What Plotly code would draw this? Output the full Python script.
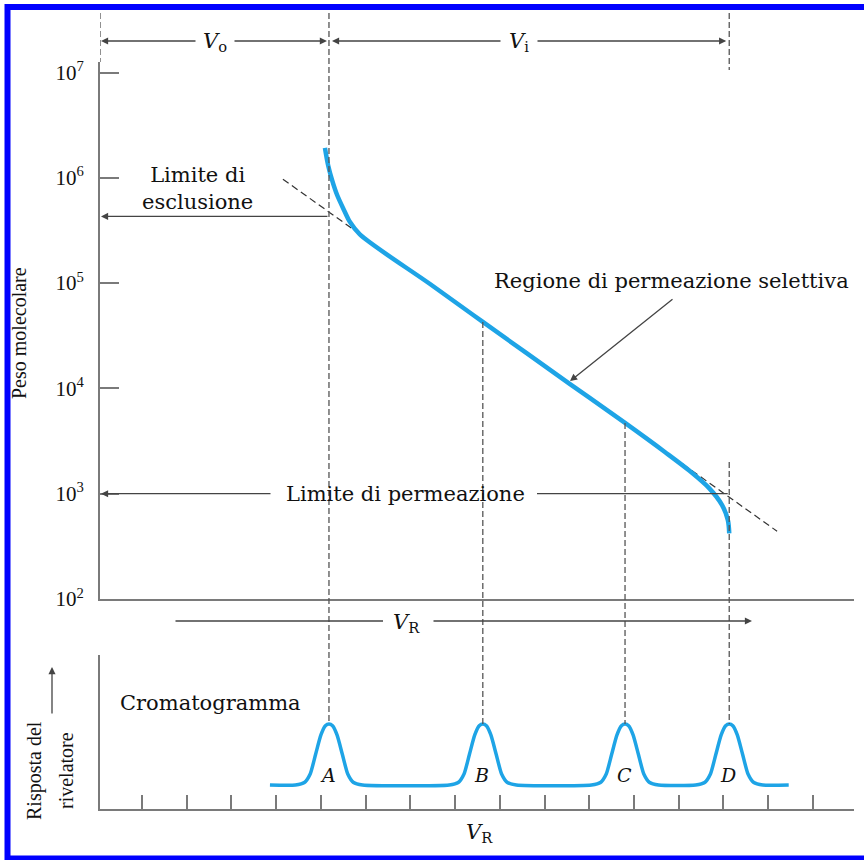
import numpy as np
import plotly.graph_objects as go

# ---------------- data ----------------
curve_vr = [5.09, 5.16, 5.25, 5.36, 5.52, 5.65, 5.87, 7.44, 8.62, 10.57,
            11.80, 12.69, 13.25, 13.68, 13.97, 14.10, 14.13]
curve_mw = [1.92e6, 1.32e6, 9.5e5, 6.9e5, 4.9e5, 3.8e5, 2.9e5, 9.8e4, 4.28e4, 1.10e4,
            4.7e3, 2.49e3, 1.64e3, 1.13e3, 7.8e2, 5.6e2, 4.2e2]

peak_names = ["A", "B", "C", "D"]
peak_vr = [5.18, 8.62, 11.80, 14.13]
peak_amp = [0.396, 0.396, 0.396, 0.396]
baseline = 0.156
chrom_start = 3.86
chrom_end = 15.46
profile_dx = [-0.75, -0.55, -0.42, -0.30, -0.18, -0.08, 0.0, 0.08, 0.18, 0.30, 0.42, 0.55, 0.75]
profile_h = [0.0, 0.04, 0.18, 0.50, 0.82, 0.97, 1.0, 0.97, 0.82, 0.50, 0.18, 0.04, 0.0]

mw_tickvals = [1e2, 1e3, 1e4, 1e5, 1e6, 1e7]
mw_ticktext = ["10<sup>2</sup>", "10<sup>3</sup>", "10<sup>4</sup>",
               "10<sup>5</sup>", "10<sup>6</sup>", "10<sup>7</sup>"]
vr_tickvals = list(range(1, 17))

exclusion_limit = 4.3e5
permeation_limit = 1e3
linear_idx = (7, 10)   # points of the linear (selective permeation) region

# ---------------- layout geometry ----------------
W, H = 864, 860
X_RANGE = [0.06, 16.92]
X_DOM = [100 / W, 854 / W]
TOP_RANGE = [2, 7.1]
TOP_DOM = [261 / H, 798 / H]
BOT_RANGE = [0, 1]
BOT_DOM = [51 / H, 205 / H]

BLUE = "#1ea4e6"
GUIDE = "#555555"
AXC = "#7a7a7a"
TXT = "#111111"
HFONT = "DejaVu Serif"
VFONT = "Liberation Serif"


def xpx(x):
    return W * (X_DOM[0] + (x - X_RANGE[0]) / (X_RANGE[1] - X_RANGE[0]) * (X_DOM[1] - X_DOM[0]))


def top_paper(v):
    lv = np.log10(v)
    return TOP_DOM[0] + (lv - TOP_RANGE[0]) / (TOP_RANGE[1] - TOP_RANGE[0]) * (TOP_DOM[1] - TOP_DOM[0])


def bot_paper(v):
    return BOT_DOM[0] + (v - BOT_RANGE[0]) / (BOT_RANGE[1] - BOT_RANGE[0]) * (BOT_DOM[1] - BOT_DOM[0])


def ypx_from_paper(p):
    return H * (1 - p)


def curve_at(x):
    return 10 ** np.interp(x, curve_vr, np.log10(curve_mw))


# tangent through the linear region
x1, x2 = curve_vr[linear_idx[0]], curve_vr[linear_idx[1]]
l1, l2 = np.log10(curve_mw[linear_idx[0]]), np.log10(curve_mw[linear_idx[1]])
slope = (l2 - l1) / (x2 - x1)


def tangent(x):
    return 10 ** (l1 + slope * (np.asarray(x) - x1))


# chromatogram
chrom_x = [chrom_start]
chrom_y = [baseline]
for c, a in zip(peak_vr, peak_amp):
    for dx, h in zip(profile_dx, profile_h):
        chrom_x.append(c + dx)
        chrom_y.append(baseline + a * h)
chrom_x.append(chrom_end)
chrom_y.append(baseline)

fig = go.Figure()

# tangent extrapolations (dashed)
up_t = [4.15, 5.81]
lo_t = [12.69, 15.20]
for seg in (up_t, lo_t):
    fig.add_trace(go.Scatter(x=seg, y=tangent(seg), mode="lines",
                             line=dict(color="#333333", width=1.2, dash="7px,4px"),
                             xaxis="x", yaxis="y", hoverinfo="skip"))

fig.add_trace(go.Scatter(x=curve_vr, y=curve_mw, mode="lines",
                         line=dict(color=BLUE, width=4.5, shape="spline", smoothing=0.9),
                         xaxis="x", yaxis="y"))

fig.add_trace(go.Scatter(x=chrom_x, y=chrom_y, mode="lines",
                         line=dict(color=BLUE, width=3.5, shape="spline", smoothing=0.6),
                         xaxis="x2", yaxis="y2"))

shapes = []
# vertical dashed guides
top_guide = (H - 13) / H
peak_top = [bot_paper(baseline + a) for a in peak_amp]
dash = "6px,3px"


def vline(x, y0, y1):
    shapes.append(dict(type="line", xref="x", yref="paper", x0=x, x1=x, y0=y0, y1=y1,
                       line=dict(color=GUIDE, width=1.3, dash=dash), layer="above"))


vline(X_RANGE[0], top_guide, TOP_DOM[1])
vline(peak_vr[0], top_guide, peak_top[0])
vline(peak_vr[1], top_paper(curve_at(peak_vr[1])), peak_top[1])
vline(peak_vr[2], top_paper(curve_at(peak_vr[2])), peak_top[2])
vline(peak_vr[3], top_guide, (H - 70) / H)
vline(peak_vr[3], (H - 462) / H, peak_top[3])

# blue frame
shapes.append(dict(type="rect", xref="paper", yref="paper",
                   x0=7.5 / W, x1=(W + 6) / W, y0=1.5 / H, y1=(H - 7) / H,
                   line=dict(color="#0000ff", width=6), fillcolor="rgba(0,0,0,0)"))

annotations = []


def arrow(hx, hy, tx, ty, head=True):
    annotations.append(dict(x=hx / W, y=1 - hy / H, xref="paper", yref="paper",
                            ax=tx - hx, ay=ty - hy, axref="pixel", ayref="pixel",
                            text="", showarrow=True, arrowhead=2 if head else 0,
                            arrowsize=1.1, arrowwidth=1.3, arrowcolor="#444444",
                            standoff=0, startstandoff=0))


def text(s, px, py, size=21, font=HFONT, angle=0, xanchor="center", italic=False):
    annotations.append(dict(x=px / W, y=1 - py / H, xref="paper", yref="paper",
                            text=("<i>%s</i>" % s) if italic else s, showarrow=False,
                            font=dict(family=font, size=size, color=TXT),
                            textangle=angle, xanchor=xanchor, yanchor="middle"))


xa = xpx(X_RANGE[0])
xA, xB, xC, xD = [xpx(v) for v in peak_vr]

# V0 / Vi dimension arrows
yv = 41
arrow(xa + 1, yv, 197, yv)
arrow(xA - 2, yv, 233, yv)
text("<i>V</i><sub>o</sub>", 215, yv + 1)
arrow(xA + 3, yv, 502, yv)
arrow(xD - 3, yv, 536, yv)
text("<i>V</i><sub>i</sub>", 519, yv + 1)

# exclusion limit
ye = ypx_from_paper(top_paper(exclusion_limit))
arrow(xa + 1, ye, xA, ye)
text("Limite di<br>esclusione", 197, ye - 28)

# permeation limit
yp = ypx_from_paper(top_paper(permeation_limit))
arrow(xa + 1, yp, 272, yp)
arrow(537, yp, xD, yp, head=False)
text("Limite di permeazione", 405, yp)

# selective permeation region
xr_head = 10.57
hx, hy = xpx(xr_head), ypx_from_paper(top_paper(curve_at(xr_head))) - 3
arrow(hx, hy, 674, 298)
text("Regione di permeazione selettiva", 671, 281)

# V_R arrow between panels
yr = 621
arrow(383, yr, 174, yr, head=False)
arrow(752, yr, 432, yr)
text("<i>V</i><sub>R</sub>", 406, yr + 2)

# chromatogram labels
text("Cromatogramma", 118, 703, xanchor="left")
for name, xv in zip(peak_names, peak_vr):
    text(name, xpx(xv) - 1, 775, size=19, italic=True)
text("<i>V</i><sub>R</sub>", 479, 833)

# axis titles
text("Peso molecolare", 19, 333, size=20, font=VFONT, angle=-90)
text("Risposta del", 34, 771, size=20, font=VFONT, angle=-90)
text("rivelatore", 66, 771, size=20, font=VFONT, angle=-90)
arrow(52, 667, 52, 715)

fig.update_layout(
    width=W, height=H, autosize=False, margin=dict(l=0, r=0, t=0, b=0, pad=0),
    paper_bgcolor="white", plot_bgcolor="white", showlegend=False,
    xaxis=dict(domain=X_DOM, range=X_RANGE, anchor="y", showline=True, linecolor=AXC,
               linewidth=2, ticks="", showticklabels=False, showgrid=False, zeroline=False,
               automargin=False),
    yaxis=dict(domain=TOP_DOM, range=TOP_RANGE, type="log", anchor="x", showline=True,
               linecolor=AXC, linewidth=2, ticks="inside", ticklen=19, tickwidth=2,
               tickcolor=AXC, tickvals=mw_tickvals, ticktext=mw_ticktext,
               tickfont=dict(family=VFONT, size=21, color=TXT), ticklabelstandoff=10,
               showgrid=False, zeroline=False, automargin=False),
    xaxis2=dict(domain=X_DOM, range=X_RANGE, anchor="y2", showline=True, linecolor=AXC,
                linewidth=2, ticks="inside", ticklen=14, tickwidth=2, tickcolor=AXC,
                tickvals=vr_tickvals, showticklabels=False, showgrid=False, zeroline=False,
                automargin=False),
    yaxis2=dict(domain=BOT_DOM, range=BOT_RANGE, anchor="x2", showline=True, linecolor=AXC,
                linewidth=2, ticks="", showticklabels=False, showgrid=False, zeroline=False,
                automargin=False),
    shapes=shapes, annotations=annotations,
)

fig.write_html("out.html",
               config={"displayModeBar": False, "responsive": False},
               post_script="document.documentElement.style.margin='0';"
                           "document.body.style.margin='0';"
                           "document.documentElement.style.overflow='hidden';"
                           "document.body.style.overflow='hidden';")
